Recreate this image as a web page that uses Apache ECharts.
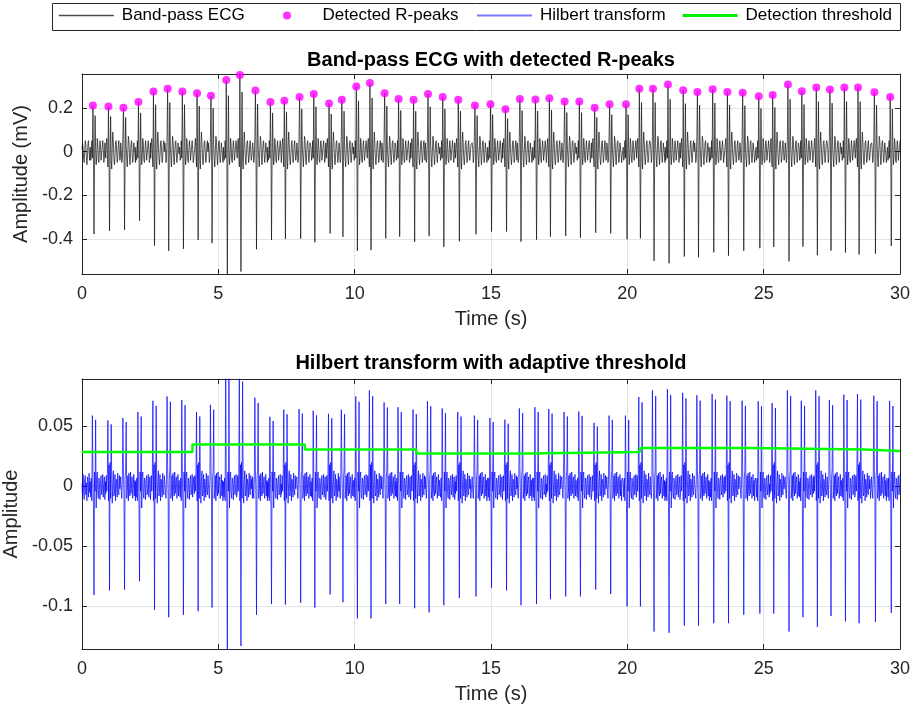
<!DOCTYPE html>
<html>
<head>
<meta charset="utf-8">
<script src="https://cdn.jsdelivr.net/npm/echarts@6/dist/echarts.min.js"></script>
<style>
html,body{margin:0;padding:0;background:#fff;}
#c{width:912px;height:708px;}
</style>
</head>
<body>
<div id="c"></div>
<script>
// ---------- data ----------
const rTimes = [0.40, 0.97, 1.52, 2.07, 2.62, 3.14, 3.68, 4.22, 4.73, 5.29,
  5.79, 6.36, 6.91, 7.42, 7.98, 8.50, 9.06, 9.53, 10.06, 10.56,
  11.10, 11.61, 12.16, 12.69, 13.23, 13.80, 14.41, 14.98, 15.53, 16.06,
  16.63, 17.14, 17.70, 18.24, 18.80, 19.35, 19.95, 20.44, 20.94, 21.49,
  22.05, 22.57, 23.13, 23.67, 24.23, 24.82, 25.33, 25.89, 26.40, 26.93,
  27.43, 27.96, 28.46, 29.06, 29.64];
const rPeakVals = [0.211, 0.206, 0.201, 0.227, 0.275, 0.288, 0.275, 0.267, 0.255, 0.328,
  0.350, 0.279, 0.227, 0.233, 0.250, 0.263, 0.220, 0.237, 0.298, 0.314,
  0.267, 0.241, 0.237, 0.263, 0.250, 0.237, 0.211, 0.217, 0.194, 0.241,
  0.238, 0.244, 0.229, 0.229, 0.201, 0.217, 0.217, 0.288, 0.288, 0.307,
  0.281, 0.273, 0.285, 0.273, 0.269, 0.253, 0.259, 0.307, 0.276, 0.293,
  0.284, 0.293, 0.293, 0.272, 0.250];
const sTroughVals = [-0.377, -0.363, -0.358, -0.316, -0.430, -0.454, -0.445, -0.404, -0.419, -0.600,
  -0.549, -0.447, -0.404, -0.400, -0.398, -0.415, -0.374, -0.390, -0.454, -0.451,
  -0.397, -0.389, -0.413, -0.387, -0.436, -0.410, -0.378, -0.366, -0.366, -0.412,
  -0.403, -0.389, -0.386, -0.394, -0.371, -0.374, -0.401, -0.397, -0.500, -0.511,
  -0.480, -0.483, -0.461, -0.476, -0.454, -0.442, -0.436, -0.502, -0.435, -0.474,
  -0.453, -0.462, -0.471, -0.467, -0.432];
const hilbPosVals = [0.059, 0.055, 0.057, 0.062, 0.0714, 0.075, 0.072, 0.062, 0.068, 0.097,
  0.093, 0.074, 0.058, 0.064, 0.0645, 0.063, 0.0605, 0.064, 0.075, 0.080,
  0.070, 0.066, 0.064, 0.071, 0.065, 0.062, 0.059, 0.057, 0.0556, 0.065,
  0.066, 0.0645, 0.062, 0.0625, 0.053, 0.059, 0.059, 0.0745, 0.080, 0.081,
  0.078, 0.076, 0.077, 0.0756, 0.0714, 0.071, 0.0695, 0.080, 0.0714, 0.080,
  0.072, 0.0765, 0.077, 0.0756, 0.0713];
const hilbNegVals = [-0.0905, -0.0867, -0.086, -0.079, -0.103, -0.109, -0.107, -0.104, -0.101, -0.142,
  -0.133, -0.107, -0.098, -0.0985, -0.097, -0.101, -0.090, -0.0965, -0.110, -0.110,
  -0.098, -0.098, -0.1015, -0.105, -0.099, -0.093, -0.0917, -0.0845, -0.0867, -0.099,
  -0.098, -0.094, -0.0917, -0.0917, -0.086, -0.0897, -0.100, -0.100, -0.121, -0.122,
  -0.116, -0.116, -0.114, -0.114, -0.107, -0.106, -0.106, -0.121, -0.109, -0.117,
  -0.108, -0.1125, -0.114, -0.113, -0.1055];
const thrTimes = [0, 4.05, 8.17, 12.26, 16.37, 20.46, 24.56, 28.68, 30];
const thrVals = [0.0287, 0.035, 0.0308, 0.0275, 0.0287, 0.032, 0.0308, 0.0295, 0.0295];
const legendNames = ['Band-pass ECG', 'Detected R-peaks', 'Hilbert transform', 'Detection threshold'];

// waveform shapes around each beat (samples every 0.02 s starting 0.10 s before the R peak)
const ecgLead = [0.01, 0.04, 0.02, -0.03, -0.05, 0.00, 0.05, 0.03, -0.02, -0.06, -0.02, 0.04, 0.05, 0.00, -0.04];
const ecgShapeA = [0.02, -0.04, -0.02, 0.05, -0.03, 'R', 0.02, 'S', -0.06, 'P', 0.01, -0.06, -0.02, 0.06, 0.03, -0.04, -0.05, 0.01, 0.05, 0.02, -0.04, -0.04, 0.02, 0.05, 0.01, -0.05, -0.03, 0.04, 0.04];
const ecgShapeB = [-0.03, 0.03, 0.06, -0.01, -0.07, 'R', 0.00, 'S', -0.02, 'P', -0.04, -0.08, 0.02, 0.09, 0.04, -0.03, -0.06, -0.02, 0.04, 0.05, 0.00, -0.05, -0.03, 0.03, 0.05, 0.00, -0.04, -0.02, 0.03];
const ecgShapeC = [0.04, 0.01, -0.05, -0.03, 0.07, 'R', 0.03, 'S', -0.04, 'P', 0.03, -0.03, -0.07, 0.00, 0.07, 0.05, -0.02, -0.06, -0.01, 0.04, 0.05, -0.01, -0.05, -0.02, 0.04, 0.04, -0.01, -0.05, -0.02];
const hilbLead = [0.002, -0.008, 0.010, -0.004, -0.011, 0.006, 0.009, -0.007, 0.003, -0.012, 0.008, 0.004, -0.009, 0.011, -0.005];
const hilbShapeA = [0.004, -0.009, 0.007, -0.012, 'U', 0.010, -0.015, 'D', 0.012, -0.004, 'V', -0.018, 0.008, 0.012, -0.006, -0.010, 0.007, 0.003, -0.011, 0.005, 0.009, -0.007, -0.003, 0.010, -0.009, 0.002, 0.008, -0.011, 0.004];
const hilbShapeB = [-0.006, 0.009, -0.004, 0.011, 'U', -0.012, 0.018, 'D', 0.020, -0.010, 'V', 0.006, -0.014, 0.004, 0.013, -0.008, -0.005, 0.010, -0.012, 0.006, 0.002, -0.009, 0.011, -0.004, -0.007, 0.009, -0.002, 0.006, -0.010];
const hilbShapeC = [0.008, -0.004, -0.010, 0.006, 'U', 0.015, -0.008, 'D', 0.006, 0.014, 'V', -0.010, -0.004, 0.009, -0.012, 0.011, -0.003, -0.008, 0.012, -0.006, 0.004, 0.008, -0.010, -0.002, 0.010, -0.008, 0.005, -0.012, 0.007];
const secondPeakRatio = 0.78;
const hilbSecondRatio = 0.94;

// ---------- build traces ----------
const STEP = 0.02, WIN0 = -0.10, TMAX = 30;
function buildTrace(lead, shapes, marks) {
  const pts = [];
  lead.forEach((v, k) => pts.push([+(k * STEP).toFixed(4), v]));
  for (let i = 0; i < rTimes.length; i++) {
    const shape = shapes[i % shapes.length];
    const next = i + 1 < rTimes.length ? rTimes[i + 1] + WIN0 : Infinity;
    for (let k = 0; k < shape.length; k++) {
      const t = +(rTimes[i] + WIN0 + k * STEP).toFixed(4);
      if (t >= next - 1e-6 || t > TMAX + 1e-6) break;
      let v = shape[k];
      if (typeof v === 'string') v = marks[v][i];
      pts.push([t, v]);
    }
  }
  return pts;
}
const ecgData = buildTrace(ecgLead, [ecgShapeA, ecgShapeB, ecgShapeC], {
  R: rPeakVals, S: sTroughVals, P: rPeakVals.map(v => v * secondPeakRatio)
});
const hilbData = buildTrace(hilbLead, [hilbShapeA, hilbShapeB, hilbShapeC], {
  U: hilbPosVals, D: hilbNegVals, V: hilbPosVals.map(v => v * hilbSecondRatio)
});
const peakData = rTimes.map((t, i) => [t, rPeakVals[i]]);
const thrData = thrTimes.map((t, i) => [t, thrVals[i]]);

// ---------- chart ----------
const FONT = "'Liberation Sans', Arial, Helvetica, sans-serif";
const AX = '#262626';
function xAx(grid, pos, withLabels) {
  return {
    type: 'value', gridIndex: grid, position: pos, min: 0, max: 30, interval: 5,
    axisLine: { show: true, onZero: false, lineStyle: { color: AX, width: 1 } },
    axisTick: { show: true, inside: true, length: 5, lineStyle: { color: AX } },
    axisLabel: { show: withLabels, fontSize: 18, color: AX, fontFamily: FONT, margin: 11 },
    splitLine: { show: withLabels, lineStyle: { color: '#e3e3e3', width: 1 } },
    name: withLabels ? 'Time (s)' : '', nameLocation: 'middle', nameGap: 35,
    nameTextStyle: { fontSize: 20, color: AX, fontFamily: FONT }
  };
}
function yAx(grid, pos, withLabels, mn, mx, name, gap) {
  return {
    type: 'value', gridIndex: grid, position: pos, min: mn, max: mx,
    axisLine: { show: true, onZero: false, lineStyle: { color: AX, width: 1 } },
    axisTick: { show: true, inside: true, length: 5, lineStyle: { color: AX } },
    axisLabel: { show: withLabels, fontSize: 18, color: AX, fontFamily: FONT, margin: 9,
      showMinLabel: false, showMaxLabel: false },
    splitLine: { show: withLabels, lineStyle: { color: '#e3e3e3', width: 1 } },
    name: withLabels ? name : '', nameLocation: 'middle', nameGap: gap, nameRotate: 90,
    nameTextStyle: { fontSize: 20, color: AX, fontFamily: FONT }
  };
}
const legendLefts = [58, 283, 476, 681];
const legendExtra = [
  { lineStyle: { width: 1.6, color: '#4a4a4a' }, itemStyle: { opacity: 0 } },
  { icon: 'circle', itemStyle: { color: '#ff00ff' } },
  { lineStyle: { width: 2, color: '#7a7aff' }, itemStyle: { opacity: 0 } },
  { lineStyle: { width: 3, color: '#00ee00' }, itemStyle: { opacity: 0 } }
];
const legends = legendNames.map((n, i) => ({
  left: legendLefts[i], top: 7, padding: 0, itemGap: 0,
  itemWidth: 55, itemHeight: i === 1 ? 8 : 10,
  textStyle: { fontSize: 17, color: '#000', fontFamily: FONT, padding: [0, 0, 0, 3] },
  data: [Object.assign({ name: n }, legendExtra[i])]
}));

const chart = echarts.init(document.getElementById('c'), null, { renderer: 'canvas' });
chart.setOption({
  animation: false,
  backgroundColor: '#fff',
  title: [
    { text: 'Band-pass ECG with detected R-peaks', left: 491, top: 50, textAlign: 'center', padding: 0,
      textStyle: { fontSize: 20, fontWeight: 'bold', color: '#000', fontFamily: FONT } },
    { text: 'Hilbert transform with adaptive threshold', left: 491, top: 353, textAlign: 'center', padding: 0,
      textStyle: { fontSize: 20, fontWeight: 'bold', color: '#000', fontFamily: FONT } }
  ],
  graphic: [
    { type: 'rect', left: 52, top: 3, shape: { width: 848, height: 27 },
      style: { fill: '#fff', stroke: AX, lineWidth: 1 }, z: -1, silent: true }
  ],
  legend: legends,
  grid: [
    { left: 82, top: 74, width: 818, height: 200, containLabel: false, outerBoundsMode: 'none' },
    { left: 82, top: 379, width: 818, height: 270, containLabel: false, outerBoundsMode: 'none' }
  ],
  xAxis: [xAx(0, 'bottom', true), xAx(0, 'top', false), xAx(1, 'bottom', true), xAx(1, 'top', false)],
  yAxis: [
    yAx(0, 'left', true, -0.56, 0.355, 'Amplitude (mV)', 49),
    yAx(0, 'right', false, -0.56, 0.355, '', 0),
    yAx(1, 'left', true, -0.1355, 0.0895, 'Amplitude', 61),
    yAx(1, 'right', false, -0.1355, 0.0895, '', 0)
  ],
  series: [
    { name: 'Band-pass ECG', type: 'line', xAxisIndex: 0, yAxisIndex: 0, data: ecgData,
      symbol: 'none', lineStyle: { color: '#111', width: 0.7 }, itemStyle: { color: '#111' }, z: 2 },
    { name: 'Detected R-peaks', type: 'scatter', xAxisIndex: 0, yAxisIndex: 0, data: peakData,
      symbol: 'circle', symbolSize: 8, itemStyle: { color: '#ff00ff' }, z: 3 },
    { name: 'Hilbert transform', type: 'line', xAxisIndex: 2, yAxisIndex: 2, data: hilbData,
      symbol: 'none', lineStyle: { color: '#0000ff', width: 0.7 }, itemStyle: { color: '#0000ff' }, z: 2 },
    { name: 'Detection threshold', type: 'line', xAxisIndex: 2, yAxisIndex: 2, data: thrData,
      step: 'end', symbol: 'none', lineStyle: { color: '#00ff00', width: 2.5 }, itemStyle: { color: '#00ff00' }, z: 3 }
  ]
});
</script>
</body>
</html>
